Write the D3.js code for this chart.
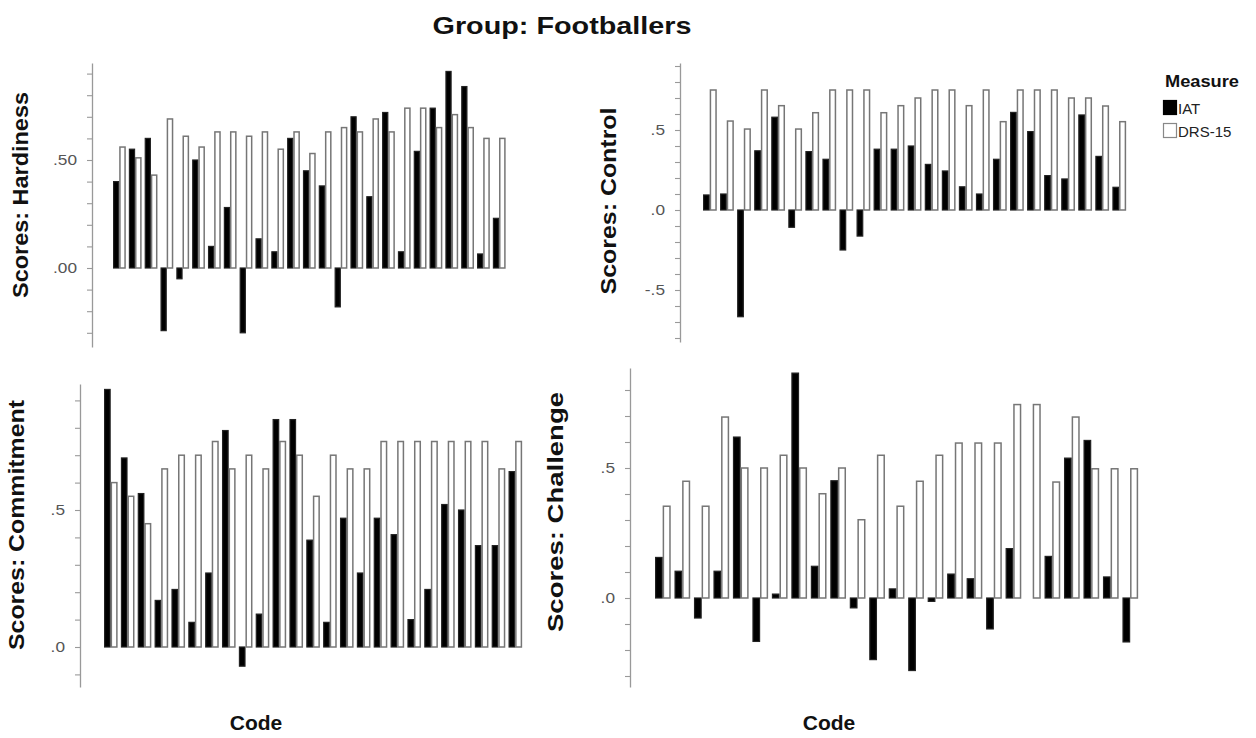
<!DOCTYPE html>
<html><head><meta charset="utf-8">
<script src="https://cdn.jsdelivr.net/npm/d3@7"></script>
<style>body{margin:0;background:#fff} svg{display:block}</style>
</head><body><svg id="c" width="1256" height="738"></svg>
<script>
// ---------- data ----------
const codes = ["C01","C02","C03","C04","C05","C06","C07","C08","C09","C10","C11","C12","C13",
               "C14","C15","C16","C17","C18","C19","C20","C21","C22","C23","C24","C25"];
const measures = ["IAT","DRS-15"];

const hardinessIAT = [0.40,0.55,0.60,-0.29,-0.05,0.50,0.10,0.28,-0.30,0.135,0.075,0.60,0.45,0.38,-0.18,0.70,0.33,0.72,0.075,0.54,0.74,0.91,0.84,0.065,0.23];
const hardinessDRS = [0.56,0.51,0.43,0.69,0.61,0.56,0.63,0.63,0.61,0.63,0.55,0.63,0.53,0.63,0.65,0.63,0.69,0.63,0.74,0.74,0.65,0.71,0.65,0.60,0.60];

const controlIAT = [0.094,0.10,-0.667,0.37,0.58,-0.108,0.365,0.317,-0.25,-0.163,0.38,0.38,0.40,0.285,0.244,0.145,0.10,0.317,0.61,0.49,0.215,0.194,0.594,0.335,0.142];
const controlDRS = [0.75,0.556,0.506,0.75,0.652,0.506,0.608,0.75,0.75,0.75,0.608,0.652,0.70,0.75,0.75,0.652,0.75,0.552,0.75,0.75,0.75,0.70,0.70,0.65,0.552];

const commitmentIAT = [0.94,0.69,0.56,0.17,0.21,0.09,0.27,0.79,-0.07,0.12,0.83,0.83,0.39,0.09,0.47,0.27,0.47,0.41,0.10,0.21,0.52,0.50,0.37,0.37,0.64];
const commitmentDRS = [0.60,0.55,0.45,0.65,0.70,0.70,0.75,0.65,0.70,0.65,0.75,0.70,0.55,0.70,0.65,0.65,0.75,0.75,0.75,0.75,0.75,0.75,0.75,0.65,0.75];

const challengeIAT = [0.156,0.103,-0.077,0.103,0.619,-0.167,0.015,0.865,0.122,0.451,-0.038,-0.237,0.035,-0.279,-0.013,0.092,0.074,-0.119,0.19,0.0,0.16,0.538,0.606,0.081,-0.169];
const challengeDRS = [0.353,0.449,0.353,0.696,0.5,0.5,0.549,0.5,0.401,0.5,0.301,0.549,0.353,0.449,0.549,0.596,0.596,0.596,0.744,0.744,0.446,0.696,0.497,0.497,0.497];

const hardinessTicks = [-0.3,-0.2,-0.1,0,0.1,0.2,0.3,0.4,0.5,0.6,0.7,0.8,0.9];
const hardinessLabelValues = [0,0.5];
const hardinessLabels = [".00",".50"];
const controlTicks = [-0.8,-0.7,-0.6,-0.5,-0.4,-0.3,-0.2,-0.1,0,0.1,0.2,0.3,0.4,0.5,0.6,0.7,0.8,0.9];
const controlLabelValues = [-0.5,0,0.5];
const controlLabels = ["-.5",".0",".5"];
const commitmentTicks = [-0.1,0,0.1,0.2,0.3,0.4,0.5,0.6,0.7,0.8,0.9];
const commitmentLabelValues = [0,0.5];
const commitmentLabels = [".0",".5"];
const challengeTicks = [-0.3,-0.2,-0.1,0,0.1,0.2,0.3,0.4,0.5,0.6,0.7,0.8];
const challengeLabelValues = [0,0.5];
const challengeLabels = [".0",".5"];

const chartTitle = "Group: Footballers";
const legendTitle = "Measure";
const xTitle = "Code";

// ---------- layout ----------
const FONT = "'Liberation Sans', Arial, Helvetica, sans-serif";
const svg = d3.select("#c");

const panels = [
  {name:"Scores: Hardiness", iat:hardinessIAT, drs:hardinessDRS, ticks:hardinessTicks, lv:hardinessLabelValues, lt:hardinessLabels,
   axisX:92, yTop:63, yBottom:347, zeroY:268, unit:216, barX0:113, barX1:505.5, tx:20, ty:195, tlen:206},
  {name:"Scores: Control", iat:controlIAT, drs:controlDRS, ticks:controlTicks, lv:controlLabelValues, lt:controlLabels,
   axisX:680, yTop:63, yBottom:342, zeroY:210, unit:160, barX0:703, barX1:1126, tx:608, ty:201, tlen:187},
  {name:"Scores: Commitment", iat:commitmentIAT, drs:commitmentDRS, ticks:commitmentTicks, lv:commitmentLabelValues, lt:commitmentLabels,
   axisX:80, yTop:384, yBottom:687, zeroY:647, unit:274, barX0:104, barX1:522, tx:16, ty:525, tlen:250},
  {name:"Scores: Challenge", iat:challengeIAT, drs:challengeDRS, ticks:challengeTicks, lv:challengeLabelValues, lt:challengeLabels,
   axisX:630, yTop:368, yBottom:687, zeroY:598, unit:260, barX0:655, barX1:1138, tx:555, ty:512, tlen:240}
];

panels.forEach(p => {
  const vTop = (p.zeroY - p.yTop) / p.unit;
  const vBot = (p.zeroY - p.yBottom) / p.unit;
  const y = d3.scaleLinear().domain([vBot, vTop]).range([p.yBottom, p.yTop]);
  const x = d3.scaleBand().domain(codes).range([p.barX0, p.barX1]).paddingInner(0.2).paddingOuter(0);
  const xi = d3.scaleBand().domain(measures).range([0, x.bandwidth()]).padding(0);

  const g = svg.append("g");
  const rows = codes.map((c, i) => ({code:c, vals:[{m:"IAT", v:p.iat[i]}, {m:"DRS-15", v:p.drs[i]}]}));
  const grp = g.selectAll("g.grp").data(rows).join("g").attr("class","grp")
    .attr("transform", d => `translate(${x(d.code)},0)`);
  grp.selectAll("rect").data(d => d.vals).join("rect")
    .attr("x", d => xi(d.m) + 0.6)
    .attr("width", xi.bandwidth() - 1.2)
    .attr("y", d => Math.min(y(d.v), y(0)))
    .attr("height", d => Math.abs(y(d.v) - y(0)))
    .attr("fill", d => d.m === "IAT" ? "#000" : "#fff")
    .attr("stroke", d => d.m === "IAT" ? "#222" : "#767676")
    .attr("stroke-width", d => d.m === "IAT" ? 1.2 : 1.5);

  const axis = d3.axisLeft(y).tickValues(p.ticks).tickSize(5).tickSizeOuter(0).tickPadding(10)
    .tickFormat(d => { const k = p.lv.findIndex(v => Math.abs(v - d) < 1e-9); return k >= 0 ? p.lt[k] : ""; });
  const ag = g.append("g").attr("transform", `translate(${p.axisX},0)`).call(axis);
  ag.select(".domain").attr("stroke", "#999").attr("stroke-width", 1.3);
  ag.selectAll(".tick line").attr("stroke", "#999").attr("stroke-width", 1.1);
  ag.selectAll(".tick text").attr("fill", "#555").attr("font-family", FONT).attr("font-size", 15)
    .attr("x", 0).attr("transform", "translate(-15,0) scale(1.15,1)");

  g.append("text").attr("transform", `translate(${p.tx},${p.ty}) rotate(-90)`)
    .attr("text-anchor","middle").attr("dominant-baseline","central")
    .attr("font-family", FONT).attr("font-weight","bold").attr("font-size", 22).attr("fill","#111")
    .attr("textLength", p.tlen).attr("lengthAdjust","spacingAndGlyphs")
    .text(p.name);
});

svg.append("text").attr("x", 562).attr("y", 25).attr("text-anchor","middle").attr("dominant-baseline","central")
  .attr("font-family", FONT).attr("font-weight","bold").attr("font-size", 24).attr("fill","#111")
  .attr("textLength", 259).attr("lengthAdjust","spacingAndGlyphs").text(chartTitle);

[[256,722],[829,722]].forEach(([cx,cy]) => {
  svg.append("text").attr("x", cx).attr("y", cy).attr("text-anchor","middle").attr("dominant-baseline","central")
    .attr("font-family", FONT).attr("font-weight","bold").attr("font-size", 21).attr("fill","#111").text(xTitle);
});

const lg = svg.append("g");
lg.append("text").attr("x", 1165).attr("y", 81).attr("dominant-baseline","central")
  .attr("font-family", FONT).attr("font-weight","bold").attr("font-size", 16).attr("fill","#111")
  .attr("textLength", 74).attr("lengthAdjust","spacingAndGlyphs").text(legendTitle);
const legendRows = lg.selectAll("g.li").data(measures).join("g").attr("class","li")
  .attr("transform", (d,i) => `translate(1163,${100 + i*23})`);
legendRows.append("rect").attr("x",0.5).attr("y",0.5).attr("width",13).attr("height",14)
  .attr("fill", d => d === "IAT" ? "#000" : "#fff")
  .attr("stroke", d => d === "IAT" ? "#000" : "#888").attr("stroke-width",1.2);
legendRows.append("text").attr("x", 15).attr("y", 8).attr("dominant-baseline","central")
  .attr("font-family", FONT).attr("font-size", 15).attr("fill","#222")
  .text(d => d);
</script>
</body></html>
